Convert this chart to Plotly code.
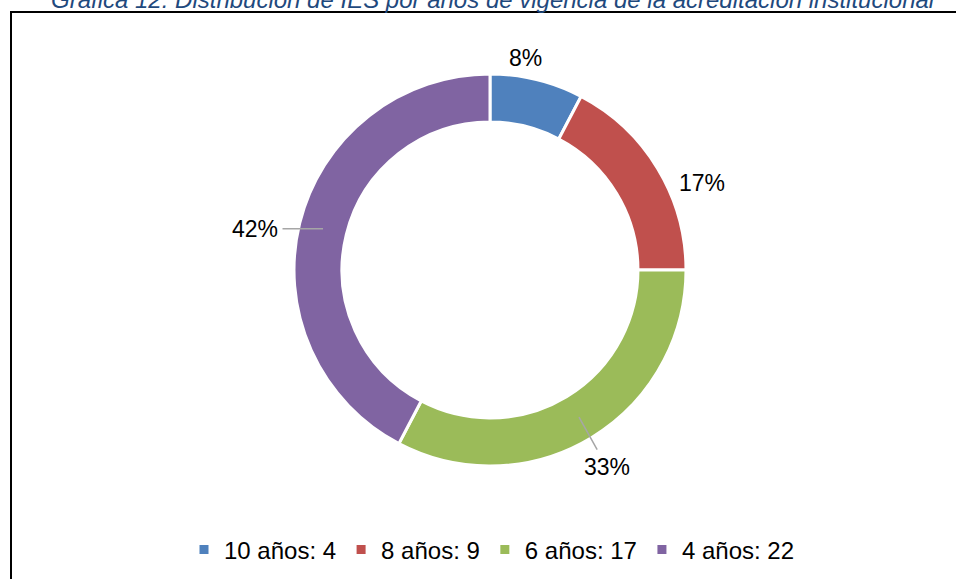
import math
import plotly.graph_objects as go

# data
categories = ["10 años", "8 años", "6 años", "4 años"]
counts = [4, 9, 17, 22]
colors = ["#4F81BD", "#C0504D", "#9BBB59", "#8064A2"]
title_text = "Gráfica 12: Distribución de IES por años de vigencia de la acreditación institucional"

W, H = 956, 579
cx, cy, R = 490, 270, 196          # pie centre / outer radius in px
hole = 0.755
legend_labels = [c + ": " + str(v) for c, v in zip(categories, counts)]
total = sum(counts)

# label placement (pixel offsets from the slice mid-point, Excel "best fit" look)
label_offsets = [(-6, -45, False), (65, 2, False), (28, 50, True), (-68, 0, True)]

fig = go.Figure(go.Pie(
    labels=legend_labels,
    values=counts,
    sort=False,
    direction="clockwise",
    rotation=0,
    hole=hole,
    marker=dict(colors=colors, line=dict(color="white", width=3)),
    textinfo="none",
    hoverinfo="skip",
    domain=dict(x=[(cx - R) / W, (cx + R) / W], y=[1 - (cy + R) / H, 1 - (cy - R) / H]),
))

# percentage labels anchored at the ring's mid radius, at each slice's mid-angle
rmid = R * (1 + hole) / 2
cum = 0
annotations = []
for v, (ox, oy, arrow) in zip(counts, label_offsets):
    ang = 2 * math.pi * (cum + v / 2) / total
    cum += v
    px_ = cx + rmid * math.sin(ang)
    py_ = cy - rmid * math.cos(ang)
    txt = "%d%%" % round(v / total * 100)
    a = dict(x=px_ / W, y=1 - py_ / H, xref="paper", yref="paper", text=txt,
             xanchor="center", yanchor="middle",
             font=dict(family="Liberation Sans, Arial", size=23, color="black"))
    if arrow:
        a.update(showarrow=True, ax=ox, ay=oy, arrowhead=0, arrowwidth=1.5,
                 arrowcolor="#A6A6A6", standoff=0, borderpad=4)
    else:
        a.update(showarrow=False, xshift=ox, yshift=-oy)
    annotations.append(a)

annotations.append(dict(
    x=493 / W, y=1 - 15 / H, xref="paper", yref="paper", xanchor="center", yanchor="bottom",
    text=title_text, showarrow=False,
    font=dict(family="Liberation Sans, Arial", size=24, color="#1F497D", style="italic"),
))

fig.update_layout(
    width=W, height=H,
    margin=dict(l=0, r=0, t=0, b=0),
    paper_bgcolor="white",
    plot_bgcolor="white",
    annotations=annotations,
    shapes=[dict(type="rect", xref="paper", yref="paper",
                 x0=11 / W, x1=1.05, y0=-0.05, y1=1 - 12 / H,
                 line=dict(color="black", width=2))],
    showlegend=True,
    legend=dict(orientation="h", x=492 / W, xanchor="center", y=1 - 550 / H, yanchor="middle",
                font=dict(family="Liberation Sans, Arial", size=24, color="black"),
                itemclick=False, itemdoubleclick=False, traceorder="normal"),
)

fig.write_html("out.html", config={"displayModeBar": False},
               post_script="document.body.style.margin='0';")
